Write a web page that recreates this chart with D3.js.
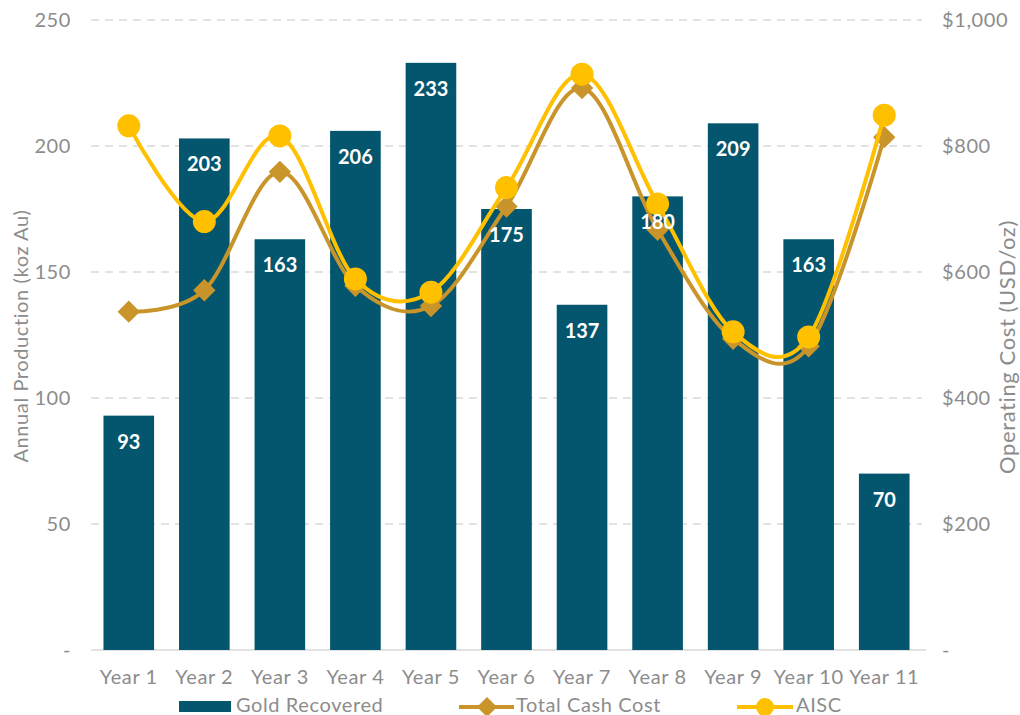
<!DOCTYPE html>
<html>
<head>
<meta charset="utf-8">
<script src="https://cdn.jsdelivr.net/npm/d3@7"></script>
<style>
  body { margin: 0; background: #fff; }
  text { font-family: Lato, "Open Sans", sans-serif; }
  .grey-text { fill: #8c8c8c; font-size: 20px; letter-spacing: 0.6px; }
</style>
</head>
<body>
<div id="chart-area"></div>
<script>
// data
var years = ["Year 1", "Year 2", "Year 3", "Year 4", "Year 5", "Year 6", "Year 7", "Year 8", "Year 9", "Year 10", "Year 11"];
var goldRecovered = [93, 203, 163, 206, 233, 175, 137, 180, 209, 163, 70];
var totalCashCost = [537, 571, 759, 578, 546, 704, 892, 667, 494, 482, 814];
var aisc = [832, 680, 816, 589, 568, 734, 914, 708, 505, 497, 849];
var leftTicks = [0, 50, 100, 150, 200, 250];
var rightTicks = [0, 200, 400, 600, 800, 1000];

var W = 1020, H = 715;
var plotLeft = 91, plotRight = 922, plotTop = 20, plotBottom = 650;
var barColor = "#03566e", tccColor = "#c9952a", aiscColor = "#ffc000";

var svg = d3.select("#chart-area").append("svg")
    .attr("width", W)
    .attr("height", H);

var x = d3.scaleBand()
    .domain(years)
    .range([plotLeft, plotRight])
    .paddingInner(0.33)
    .paddingOuter(0.165);

var y = d3.scaleLinear().domain([0, 250]).range([plotBottom, plotTop]);
var y2 = d3.scaleLinear().domain([0, 1000]).range([plotBottom, plotTop]);

// grid
svg.selectAll(".grid")
    .data(leftTicks.filter((d) => d > 0))
    .enter().append("line")
        .attr("x1", plotLeft).attr("x2", plotRight)
        .attr("y1", (d) => y(d)).attr("y2", (d) => y(d))
        .attr("stroke", "#d9d9d9")
        .attr("stroke-width", 1.3)
        .attr("stroke-dasharray", "8,6");

svg.append("line")
    .attr("x1", plotLeft).attr("x2", plotRight + 4)
    .attr("y1", plotBottom).attr("y2", plotBottom)
    .attr("stroke", "#d9d9d9")
    .attr("stroke-width", 1.3);

// left axis
var yAxis = d3.axisLeft(y).tickValues(leftTicks).tickSize(0).tickPadding(20)
    .tickFormat((d) => d === 0 ? "-" : d);
var gl = svg.append("g").attr("transform", "translate(" + plotLeft + ",0)").call(yAxis);
gl.select(".domain").remove();
gl.selectAll("text").attr("class", "grey-text").attr("fill", null);

// right axis
var yAxis2 = d3.axisRight(y2).tickValues(rightTicks).tickSize(0).tickPadding(20)
    .tickFormat((d) => d === 0 ? "-" : d3.format("$,")(d));
var gr = svg.append("g").attr("transform", "translate(" + plotRight + ",0)").call(yAxis2);
gr.select(".domain").remove();
gr.selectAll("text").attr("class", "grey-text").attr("fill", null);

// x axis labels
var xAxis = d3.axisBottom(x).tickSize(0).tickPadding(20);
var gx = svg.append("g").attr("transform", "translate(0," + plotBottom + ")").call(xAxis);
gx.select(".domain").remove();
gx.selectAll("text").attr("class", "grey-text").attr("fill", null);
gl.attr("font-size", null).attr("font-family", null);
gr.attr("font-size", null).attr("font-family", null);
gx.attr("font-size", null).attr("font-family", null);

// axis titles
svg.append("text")
    .attr("class", "grey-text")
    .attr("transform", "translate(28,336) rotate(-90)")
    .attr("text-anchor", "middle")
    .text("Annual Production (koz Au)");

svg.append("text")
    .attr("class", "grey-text")
    .attr("transform", "translate(1015,347) rotate(-90)")
    .attr("text-anchor", "middle")
    .style("font-size", "22px")
    .text("Operating Cost (USD/oz)");

// bars
svg.selectAll(".bar")
    .data(goldRecovered)
    .enter().append("rect")
        .attr("x", (d, i) => x(years[i]))
        .attr("y", (d) => y(d))
        .attr("width", x.bandwidth())
        .attr("height", (d) => plotBottom - y(d))
        .attr("fill", barColor);

// lines
var line = d3.line()
    .x((d, i) => x(years[i]) + x.bandwidth() / 2)
    .y((d) => y2(d))
    .curve(d3.curveCatmullRom.alpha(0));

svg.append("path")
    .attr("d", line(totalCashCost))
    .attr("fill", "none")
    .attr("stroke", tccColor)
    .attr("stroke-width", 4);

svg.selectAll(".tcc")
    .data(totalCashCost)
    .enter().append("path")
        .attr("d", d3.symbol().type(d3.symbolSquare).size(250))
        .attr("transform", (d, i) => "translate(" + (x(years[i]) + x.bandwidth() / 2) + "," + y2(d) + ") rotate(45)")
        .attr("fill", tccColor);

svg.append("path")
    .attr("d", line(aisc))
    .attr("fill", "none")
    .attr("stroke", aiscColor)
    .attr("stroke-width", 4);

svg.selectAll(".aisc")
    .data(aisc)
    .enter().append("circle")
        .attr("cx", (d, i) => x(years[i]) + x.bandwidth() / 2)
        .attr("cy", (d) => y2(d))
        .attr("r", 11.5)
        .attr("fill", aiscColor);

// bar labels
svg.selectAll(".lbl")
    .data(goldRecovered)
    .enter().append("text")
        .attr("x", (d, i) => x(years[i]) + x.bandwidth() / 2)
        .attr("y", (d) => y(d) + 33)
        .attr("text-anchor", "middle")
        .attr("fill", "#fff")
        .style("font-size", "20px")
        .style("font-weight", "bold")
        .text((d) => d);

// legend
var lg = svg.append("g");
lg.append("rect").attr("x", 179).attr("y", 701).attr("width", 52).attr("height", 11).attr("fill", barColor);
lg.append("text").attr("class", "grey-text").attr("x", 236).attr("y", 712).text("Gold Recovered");

lg.append("line").attr("x1", 459).attr("x2", 514).attr("y1", 707).attr("y2", 707)
    .attr("stroke", tccColor).attr("stroke-width", 4);
lg.append("path").attr("d", d3.symbol().type(d3.symbolSquare).size(200))
    .attr("transform", "translate(487,707) rotate(45)").attr("fill", tccColor);
lg.append("text").attr("class", "grey-text").attr("x", 516).attr("y", 712).text("Total Cash Cost");

lg.append("line").attr("x1", 737).attr("x2", 793).attr("y1", 707).attr("y2", 707)
    .attr("stroke", aiscColor).attr("stroke-width", 4);
lg.append("circle").attr("cx", 765).attr("cy", 707).attr("r", 9).attr("fill", aiscColor);
lg.append("text").attr("class", "grey-text").attr("x", 796).attr("y", 712).text("AISC");
</script>
</body>
</html>
